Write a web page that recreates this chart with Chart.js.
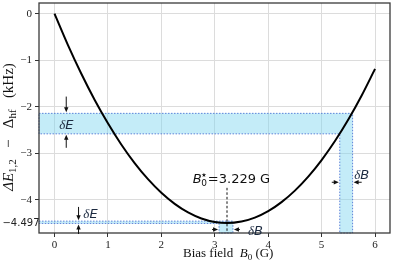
<!DOCTYPE html>
<html>
<head>
<meta charset="utf-8">
<script src="https://cdn.jsdelivr.net/npm/chart.js@4.4.1/dist/chart.umd.min.js"></script>
<style>
  html, body { margin: 0; padding: 0; background: #fff; }
  #wrap { width: 393px; height: 262px; }
</style>
</head>
<body>
<div id="wrap"><canvas id="chart"></canvas></div>
<script>
// curve
const biasField = [0, 0.25, 0.5, 0.75, 1, 1.25, 1.5, 1.75, 2, 2.25, 2.5, 2.75, 3, 3.229,
  3.5, 3.75, 4, 4.25, 4.5, 4.75, 5, 5.25, 5.5, 5.75, 6];
const energyShift = [0, -0.67, -1.285, -1.847, -2.354, -2.808, -3.208, -3.554, -3.846, -4.084,
  -4.268, -4.398, -4.474, -4.497, -4.465, -4.38, -4.241, -4.047, -3.8, -3.499, -3.144,
  -2.735, -2.273, -1.756, -1.185];

const xTickValues = [0, 1, 2, 3, 4, 5, 6];
const yTickValues = [0, -1, -2, -3, -4];
const yTickLabels = ["0", "−1", "−2", "−3", "−4"];
const xRange = [-0.29, 6.28];
const yRange = [-4.71, 0.23];

const bStar = 3.229;
const bStarLabel = "=3.229 G";
const eMin = -4.497;
const eMinLabel = "−4.497";
const bStarLineTop = -3.74;

// tolerance windows
const upperEnergyBand = [-2.58, -2.14];
const upperFieldBand = [5.34, 5.58];
const lowerEnergyBand = [-4.505, -4.455];
const lowerFieldBand = [3.08, 3.34];

const serif = "'Liberation Serif', 'DejaVu Serif', serif";
const sans = "'DejaVu Sans', sans-serif";
const bandFill = "rgba(125, 212, 240, 0.45)";
const bandEdge = "rgba(70, 110, 210, 0.85)";
const labelColor = "#1c2a40";

function bandPath(ctx, xs, ys, energy, field) {
  const x0 = xs.getPixelForValue(xRange[0]);
  const yBot = ys.getPixelForValue(yRange[0]);
  const top = ys.getPixelForValue(energy[1]);
  const bot = ys.getPixelForValue(energy[0]);
  const fl = xs.getPixelForValue(field[0]);
  const fr = xs.getPixelForValue(field[1]);
  const pts = [[x0, top], [fr, top], [fr, yBot], [fl, yBot], [fl, bot], [x0, bot]];
  ctx.beginPath();
  pts.forEach((p, i) => (i ? ctx.lineTo(p[0], p[1]) : ctx.moveTo(p[0], p[1])));
  ctx.closePath();
  ctx.fillStyle = bandFill;
  ctx.fill();
  ctx.setLineDash([1.5, 1.5]);
  ctx.strokeStyle = bandEdge;
  ctx.lineWidth = 1;
  ctx.stroke();
  ctx.setLineDash([]);
}

function arrow(ctx, x1, y1, x2, y2) {
  const a = Math.atan2(y2 - y1, x2 - x1);
  ctx.strokeStyle = "#111";
  ctx.fillStyle = "#111";
  ctx.lineWidth = 1;
  ctx.beginPath();
  ctx.moveTo(x1, y1);
  ctx.lineTo(x2 - 3 * Math.cos(a), y2 - 3 * Math.sin(a));
  ctx.stroke();
  ctx.beginPath();
  ctx.moveTo(x2, y2);
  ctx.lineTo(x2 - 5 * Math.cos(a) + 2.2 * Math.sin(a), y2 - 5 * Math.sin(a) - 2.2 * Math.cos(a));
  ctx.lineTo(x2 - 5 * Math.cos(a) - 2.2 * Math.sin(a), y2 - 5 * Math.sin(a) + 2.2 * Math.cos(a));
  ctx.closePath();
  ctx.fill();
}

// runs: [text, font, dy]
function runsWidth(ctx, runs) {
  return runs.reduce((w, r) => { ctx.font = r[1]; return w + ctx.measureText(r[0]).width; }, 0);
}
function drawRuns(ctx, x, y, runs, color) {
  ctx.fillStyle = color;
  ctx.textBaseline = "alphabetic";
  ctx.textAlign = "left";
  runs.forEach(r => {
    ctx.font = r[1];
    ctx.fillText(r[0], x, y + (r[2] || 0));
    x += ctx.measureText(r[0]).width;
  });
}

function deltaLabel(ctx, x, yMid, letter) {
  drawRuns(ctx, x, yMid + 5, [
    ["δ", "italic 13px " + serif],
    [letter, "italic 13px " + sans]
  ], labelColor);
}

const annotations = {
  id: "annotations",
  beforeDatasetsDraw(chart) {
    const { ctx, scales: { x: xs, y: ys } } = chart;
    ctx.save();
    bandPath(ctx, xs, ys, upperEnergyBand, upperFieldBand);
    bandPath(ctx, xs, ys, lowerEnergyBand, lowerFieldBand);
    ctx.restore();
  },
  afterDraw(chart) {
    const { ctx, chartArea: a, scales: { x: xs, y: ys } } = chart;
    const px = v => xs.getPixelForValue(v);
    const py = v => ys.getPixelForValue(v);
    ctx.save();

    // frame
    ctx.strokeStyle = "#3a3a3a";
    ctx.lineWidth = 1.3;
    ctx.strokeRect(a.left, a.top, a.right - a.left, a.bottom - a.top);

    // upper dE arrows
    arrow(ctx, px(0.22), py(-1.78), px(0.22), py(upperEnergyBand[1]) - 1);
    arrow(ctx, px(0.22), py(-2.88), px(0.22), py(upperEnergyBand[0]) + 1);
    deltaLabel(ctx, px(0.09), py(-2.36), "E");

    // lower dE arrows
    arrow(ctx, px(0.45), py(-4.15), px(0.45), py(lowerEnergyBand[1]) - 1);
    arrow(ctx, px(0.45), a.bottom + 1, px(0.45), py(lowerEnergyBand[0]) + 1);
    deltaLabel(ctx, px(0.54), py(-4.29), "E");

    // right dB arrows
    arrow(ctx, px(5.19), py(-3.62), px(upperFieldBand[0]) - 1, py(-3.62));
    arrow(ctx, px(5.75), py(-3.62), px(upperFieldBand[1]) + 1, py(-3.62));
    deltaLabel(ctx, px(5.61), py(-3.44), "B");

    // lower dB arrows
    arrow(ctx, px(2.95), py(-4.635), px(lowerFieldBand[0]) - 1, py(-4.635));
    arrow(ctx, px(3.47), py(-4.635), px(lowerFieldBand[1]) + 1, py(-4.635));
    deltaLabel(ctx, px(3.62), py(-4.635), "B");

    // B0* label
    const bx = px(2.59), by = py(-3.63);
    drawRuns(ctx, bx, by, [["B", "italic 13px " + sans]], "#111");
    drawRuns(ctx, bx + 8.5, by + 3, [["0", "9px " + sans]], "#111");
    drawRuns(ctx, bx + 8.5, by - 6, [["★", "6px " + sans]], "#111");
    drawRuns(ctx, bx + 15, by, [[bStarLabel, "13px " + sans]], "#111");

    // minimum value label
    ctx.font = "10px " + sans;
    ctx.fillStyle = "#222";
    ctx.textAlign = "right";
    ctx.textBaseline = "middle";
    ctx.fillText(eMinLabel, a.left + 0.5, py(eMin));

    // x title
    const xRuns = [
      ["Bias field  ", "13px " + serif],
      ["B", "italic 13px " + serif],
      ["0", "9px " + serif, 3],
      [" (G)", "13px " + serif]
    ];
    drawRuns(ctx, 183, 257, xRuns, "#111");

    // y title
    const yRuns = [
      ["ΔE", "italic 15px " + serif],
      ["1,2", "11px " + serif, 3],
      ["   −   ", "15px " + serif],
      ["Δ", "15px " + serif],
      ["hf", "11px " + serif, 3],
      ["   (kHz)", "15px " + serif]
    ];
    const w = runsWidth(ctx, yRuns);
    ctx.translate(13, 127);
    ctx.rotate(-Math.PI / 2);
    drawRuns(ctx, -w / 2, 0, yRuns, "#111");
    ctx.restore();
  }
};

function noLabelPadding(s) {
  s.paddingTop = 0;
  s.paddingBottom = 0;
  s.paddingLeft = 0;
  s.paddingRight = 0;
}

new Chart(document.getElementById("chart"), {
  type: "line",
  data: {
    datasets: [
      {
        data: biasField.map((b, i) => ({ x: b, y: energyShift[i] })),
        borderColor: "#000",
        borderWidth: 2,
        pointRadius: 0,
        cubicInterpolationMode: "monotone"
      },
      {
        data: [{ x: bStar, y: bStarLineTop }, { x: bStar, y: yRange[0] }],
        borderColor: "#111",
        borderWidth: 1,
        borderDash: [2.5, 2],
        pointRadius: 0
      }
    ]
  },
  options: {
    responsive: true,
    maintainAspectRatio: false,
    animation: false,
    layout: { padding: { top: 3, right: 3, left: 0, bottom: 0 } },
    plugins: { legend: { display: false }, tooltip: { enabled: false } },
    scales: {
      x: {
        type: "linear",
        min: xRange[0],
        max: xRange[1],
        afterBuildTicks: s => { s.ticks = xTickValues.map(v => ({ value: v })); },
        afterFit: s => { s.height = 29; noLabelPadding(s); },
        ticks: {
          callback: v => String(v),
          font: { family: serif, size: 11 },
          color: "#222",
          padding: 2,
          maxRotation: 0
        },
        grid: { color: "#dcdcdc", tickColor: "#333", tickLength: 4 },
        border: { display: false }
      },
      y: {
        type: "linear",
        min: yRange[0],
        max: yRange[1],
        afterBuildTicks: s => { s.ticks = yTickValues.map(v => ({ value: v })); },
        afterFit: s => { s.width = 39; noLabelPadding(s); },
        ticks: {
          callback: (v, i) => yTickLabels[i],
          font: { family: serif, size: 11 },
          color: "#222",
          padding: 3
        },
        grid: { color: "#dcdcdc", tickColor: "#333", tickLength: 4 },
        border: { display: false }
      }
    }
  },
  plugins: [annotations]
});
</script>
</body>
</html>
